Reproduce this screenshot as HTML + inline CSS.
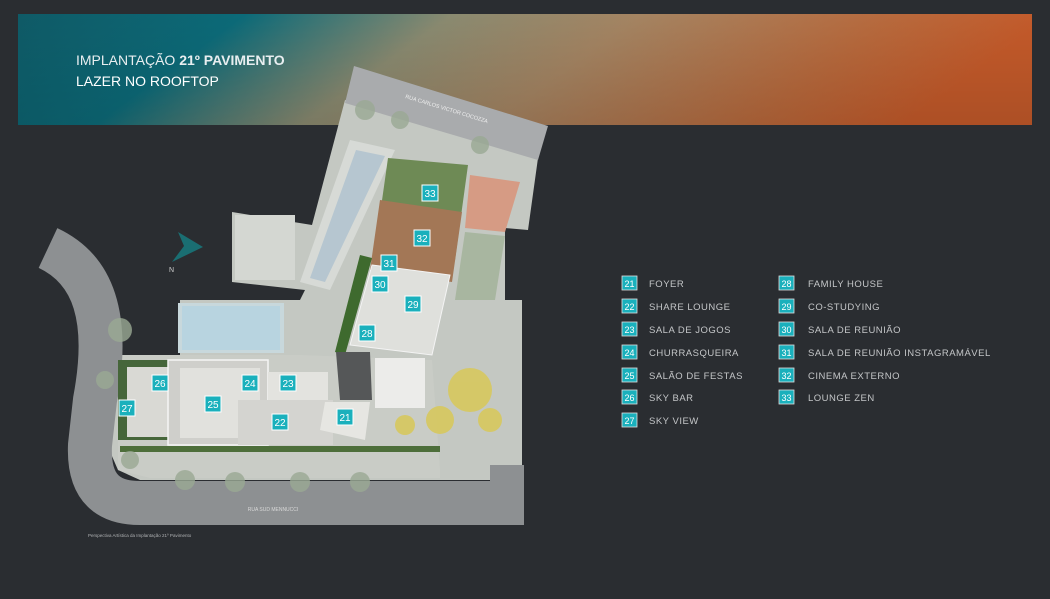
<!DOCTYPE html>
<html><head><meta charset="utf-8"><style>
html,body{margin:0;padding:0;background:#2a2d31;}
body{width:1050px;height:599px;overflow:hidden;position:relative;font-family:"Liberation Sans",sans-serif;}
svg{position:absolute;left:0;top:0}
</style></head><body>
<svg width="1050" height="599" viewBox="0 0 1050 599" xmlns="http://www.w3.org/2000/svg">
<defs>
<linearGradient id="bg" x1="0" y1="0" x2="1" y2="0.15">
<stop offset="0" stop-color="#0f5a66"/>
<stop offset="0.22" stop-color="#0c6a78"/>
<stop offset="0.42" stop-color="#8a8a70"/>
<stop offset="0.6" stop-color="#a48462"/>
<stop offset="0.85" stop-color="#b8693c"/>
<stop offset="1" stop-color="#c45a2a"/>
</linearGradient>
<linearGradient id="bgv" x1="0" y1="0" x2="0" y2="1">
<stop offset="0" stop-color="#000" stop-opacity="0"/>
<stop offset="1" stop-color="#000" stop-opacity="0.12"/>
</linearGradient>
</defs>
<rect width="1050" height="599" fill="#2a2d31"/>
<rect x="18" y="14" width="1014" height="111" fill="url(#bg)"/>
<rect x="18" y="14" width="1014" height="111" fill="url(#bgv)"/>
<text x="76" y="65" font-size="14" fill="#e8eef0"><tspan>IMPLANTAÇÃO </tspan><tspan font-weight="bold">21º PAVIMENTO</tspan></text>
<text x="76" y="86" font-size="14" fill="#ffffff">LAZER NO ROOFTOP</text>

<!-- site land -->
<polygon points="118,358 180,355 180,300 300,300 305,290 232,282 232,212 312,225 345,100 538,158 528,230 505,228 505,300 522,300 522,470 500,470 500,480 140,480 118,470 105,440" fill="#c4c8c2"/>
<polygon points="118,355 118,470 150,478 440,478 440,470 432,360 300,355 180,355" fill="#c9ccc6"/>
<!-- road curve -->
<path d="M48,248 C95,270 110,320 95,400 L90,445 C88,490 110,503 140,503 L523,503" fill="none" stroke="#8d9092" stroke-width="44"/>
<rect x="490" y="465" width="34" height="60" fill="#8d9092"/>
<text x="273" y="511" font-size="5" fill="#d8d8d8" text-anchor="middle">RUA SUD MENNUCCI</text>

<!-- top road -->
<polygon points="354,66 548,126 538,160 345,103" fill="#a9abad"/>
<text x="0" y="0" font-size="5.5" fill="#eeeeee" transform="translate(405,98) rotate(17)">RUA CARLOS VICTOR COCOZZA</text>
<!-- pool strip -->
<polygon points="350,140 395,150 330,290 300,282" fill="#d7dad6"/>
<polygon points="356,150 385,156 325,282 310,278" fill="#b6c6d0"/>
<rect x="235" y="215" width="60" height="65" fill="#d4d7d2"/>
<!-- green areas -->
<polygon points="388,158 468,165 455,260 375,250" fill="#6e8a55"/>
<polygon points="380,200 462,212 452,282 370,270" fill="#a37756"/>
<polygon points="470,175 520,182 505,232 465,228" fill="#d69b84"/>
<polygon points="465,232 505,236 495,300 455,300" fill="#a8b6a0"/>
<!-- building north -->
<polygon points="372,265 450,275 432,355 350,345" fill="#dfe0dc" stroke="#f4f4f4" stroke-width="1"/>
<polygon points="360,255 372,258 345,355 335,352" fill="#3e6a2e"/>
<!-- court -->
<rect x="178" y="303" width="106" height="50" fill="#c8d8dc"/>
<rect x="182" y="306" width="98" height="44" fill="#b8d4e0"/>
<!-- south building -->
<rect x="118" y="360" width="50" height="80" fill="#46663a"/>
<rect x="127" y="367" width="45" height="70" fill="#d9d9d4"/>
<rect x="168" y="360" width="100" height="85" fill="#cfcfcb" stroke="#f5f5f5" stroke-width="1.5"/>
<rect x="180" y="368" width="80" height="70" fill="#e1e1dd"/>
<rect x="268" y="372" width="60" height="30" fill="#e3e3df"/>
<rect x="238" y="400" width="95" height="45" fill="#d4d4d0"/>
<polygon points="336,352 370,352 372,400 340,400" fill="#555758"/>
<polygon points="325,402 370,402 365,440 320,430" fill="#e6e6e2"/>
<rect x="375" y="358" width="50" height="50" fill="#ececea"/>
<polygon points="120,446 440,446 440,452 120,452" fill="#4d6e3a"/>
<!-- trees -->
<g fill="#d8c858" opacity="0.85">
<circle cx="470" cy="390" r="22"/><circle cx="440" cy="420" r="14"/><circle cx="490" cy="420" r="12"/><circle cx="405" cy="425" r="10"/>
</g>
<g fill="#9aa994" opacity="0.8">
<circle cx="120" cy="330" r="12"/><circle cx="105" cy="380" r="9"/><circle cx="130" cy="460" r="9"/><circle cx="185" cy="480" r="10"/><circle cx="235" cy="482" r="10"/><circle cx="300" cy="482" r="10"/><circle cx="360" cy="482" r="10"/><circle cx="480" cy="145" r="9"/><circle cx="365" cy="110" r="10"/><circle cx="400" cy="120" r="9"/>
</g>
<!-- north arrow -->
<polygon points="178,232 203,247 172,262 184,246" fill="#1a6e72"/>
<text x="169" y="272" font-size="7" fill="#d0d0d0">N</text>
<text x="88" y="537" font-size="4.5" fill="#b0b2b4">Perspectiva Artística da Implantação 21º Pavimento</text>

<g font-size="10" fill="#fff" text-anchor="middle" font-family="Liberation Sans Narrow, Liberation Sans, sans-serif">
<g stroke="#fff" stroke-width="1" fill="#1ab0bc">
<rect x="422" y="185" width="16" height="16"/><rect x="414" y="230" width="16" height="16"/><rect x="381" y="255" width="16" height="16"/><rect x="372" y="276" width="16" height="16"/><rect x="405" y="296" width="16" height="16"/><rect x="359" y="325" width="16" height="16"/><rect x="152" y="375" width="16" height="16"/><rect x="242" y="375" width="16" height="16"/><rect x="280" y="375" width="16" height="16"/><rect x="205" y="396" width="16" height="16"/><rect x="119" y="400" width="16" height="16"/><rect x="272" y="414" width="16" height="16"/><rect x="337" y="409" width="16" height="16"/>
</g>
<text x="430" y="197">33</text><text x="422" y="242">32</text><text x="389" y="267">31</text><text x="380" y="288">30</text><text x="413" y="308">29</text><text x="367" y="337">28</text><text x="160" y="387">26</text><text x="250" y="387">24</text><text x="288" y="387">23</text><text x="213" y="408">25</text><text x="127" y="412">27</text><text x="280" y="426">22</text><text x="345" y="421">21</text>
</g>

<!-- legend -->
<g font-family="Liberation Sans, sans-serif">
<g stroke="#e0e0e0" stroke-width="0.8" fill="#1ab0bc">
<rect x="622" y="276" width="15" height="14"/><rect x="622" y="299" width="15" height="14"/><rect x="622" y="322" width="15" height="14"/><rect x="622" y="345" width="15" height="14"/><rect x="622" y="368" width="15" height="14"/><rect x="622" y="390" width="15" height="14"/><rect x="622" y="413" width="15" height="14"/>
<rect x="779" y="276" width="15" height="14"/><rect x="779" y="299" width="15" height="14"/><rect x="779" y="322" width="15" height="14"/><rect x="779" y="345" width="15" height="14"/><rect x="779" y="368" width="15" height="14"/><rect x="779" y="390" width="15" height="14"/>
</g>
<g font-size="9" fill="#fff" text-anchor="middle">
<text x="629.5" y="287">21</text><text x="629.5" y="310">22</text><text x="629.5" y="333">23</text><text x="629.5" y="356">24</text><text x="629.5" y="379">25</text><text x="629.5" y="401">26</text><text x="629.5" y="424">27</text>
<text x="786.5" y="287">28</text><text x="786.5" y="310">29</text><text x="786.5" y="333">30</text><text x="786.5" y="356">31</text><text x="786.5" y="379">32</text><text x="786.5" y="401">33</text>
</g>
<g font-size="9.5" fill="#c4c6c8" letter-spacing="0.5">
<text x="649" y="287">FOYER</text><text x="649" y="310">SHARE LOUNGE</text><text x="649" y="333">SALA DE JOGOS</text><text x="649" y="356">CHURRASQUEIRA</text><text x="649" y="379">SALÃO DE FESTAS</text><text x="649" y="401">SKY BAR</text><text x="649" y="424">SKY VIEW</text>
<text x="808" y="287">FAMILY HOUSE</text><text x="808" y="310">CO-STUDYING</text><text x="808" y="333">SALA DE REUNIÃO</text><text x="808" y="356">SALA DE REUNIÃO INSTAGRAMÁVEL</text><text x="808" y="379">CINEMA EXTERNO</text><text x="808" y="401">LOUNGE ZEN</text>
</g>
</g>
</svg>
</body></html>
